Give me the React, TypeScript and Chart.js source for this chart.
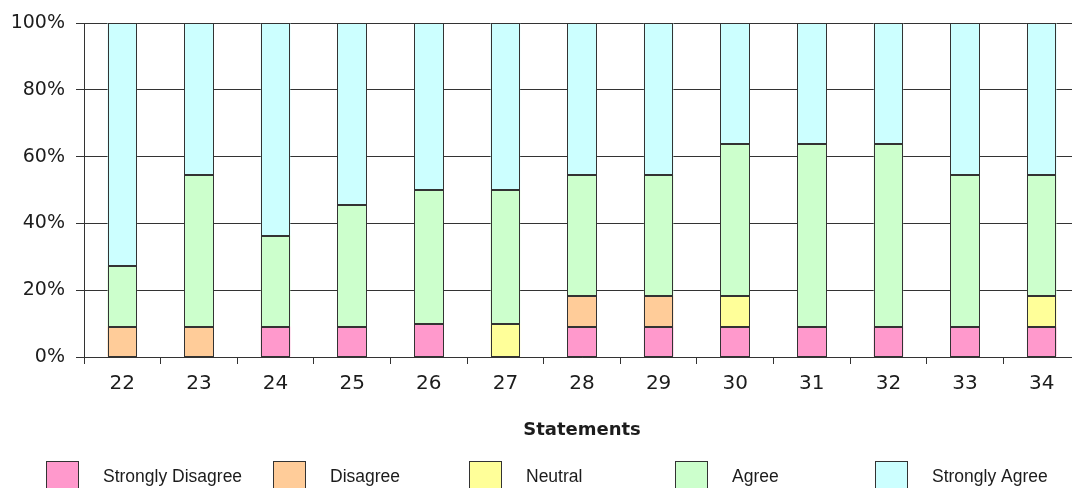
import React, { useEffect, useRef } from "react";
import { Chart, registerables } from "chart.js";

Chart.register(...registerables);

const categories = ["22", "23", "24", "25", "26", "27", "28", "29", "30", "31", "32", "33", "34"];
const seriesNames = ["Strongly Disagree", "Disagree", "Neutral", "Agree", "Strongly Agree"];
const stronglyDisagree = [null, null, 9.09, 9.09, 10, null, 9.09, 9.09, 9.09, 9.09, 9.09, 9.09, 9.09];
const disagree = [9.09, 9.09, null, null, null, null, 9.09, 9.09, null, null, null, null, null];
const neutral = [null, null, null, null, null, 10, null, null, 9.09, null, null, null, 9.09];
const agree = [18.18, 45.45, 27.27, 36.36, 40, 40, 36.36, 36.36, 45.45, 54.55, 54.55, 45.45, 36.36];
const stronglyAgree = [72.73, 45.45, 63.64, 54.55, 50, 50, 45.45, 45.45, 36.36, 36.36, 36.36, 45.45, 45.45];
const yTicks = [0, 20, 40, 60, 80, 100];

const colors = ["#FF99CC", "#FFCC99", "#FFFF99", "#CCFFCC", "#CCFFFF"];
const LINE = "#333333";
const TEXT = "#1c1c1c";

const outlinePlugin = {
  id: "barOutline",
  afterDatasetsDraw(chart: any) {
    const ctx = chart.ctx;
    ctx.save();
    ctx.strokeStyle = LINE;
    ctx.lineWidth = 1;
    chart.data.datasets.forEach((ds: any, i: number) => {
      const meta = chart.getDatasetMeta(i);
      meta.data.forEach((el: any, j: number) => {
        if (ds.data[j] == null) return;
        const { x, y, base, width } = el.getProps(["x", "y", "base", "width"], true);
        const l = Math.round(x - width / 2) + 0.5;
        const r = Math.round(x + width / 2) - 0.5;
        const t = Math.round(Math.min(y, base)) + 0.5;
        const b = Math.round(Math.max(y, base)) - 0.5;
        ctx.strokeRect(l, t, r - l, b - t);
      });
    });
    ctx.restore();
  },
};

const legendPlugin = {
  id: "customLegend",
  afterDraw(chart: any) {
    const ctx = chart.ctx;
    const xs = [46, 273, 469, 675, 875];
    const boxTop = 461;
    ctx.save();
    chart.data.datasets.forEach((ds: any, i: number) => {
      const x = xs[i];
      ctx.fillStyle = ds.backgroundColor;
      ctx.fillRect(x, boxTop, 33, 32);
      ctx.strokeStyle = LINE;
      ctx.lineWidth = 1;
      ctx.strokeRect(x + 0.5, boxTop + 0.5, 32, 31);
      ctx.fillStyle = TEXT;
      ctx.font = '17.5px "Liberation Sans", Arial, sans-serif';
      ctx.textBaseline = "middle";
      ctx.textAlign = "left";
      ctx.fillText(ds.label, x + 57, 477);
    });
    ctx.restore();
  },
};

export default function App() {
  const ref = useRef<HTMLCanvasElement>(null);
  useEffect(() => {
    if (!ref.current) return;
    const series = [stronglyDisagree, disagree, neutral, agree, stronglyAgree];
    const chart = new Chart(ref.current, {
      type: "bar",
      data: {
        labels: categories,
        datasets: series.map((d, i) => ({
          label: seriesNames[i],
          data: d,
          backgroundColor: colors[i],
          borderWidth: 0,
          categoryPercentage: 1,
          barPercentage: 0.385,
        })),
      },
      options: {
        animation: false,
        responsive: false,
        maintainAspectRatio: false,
        layout: { padding: { left: 0, right: 0, top: 23, bottom: 31 } },
        plugins: { legend: { display: false }, tooltip: { enabled: false } },
        scales: {
          x: {
            stacked: true,
            offset: true,
            grid: { drawOnChartArea: false, drawTicks: true, tickLength: 7, color: LINE, offset: true },
            border: { color: LINE, width: 1 },
            ticks: {
              color: TEXT,
              padding: 8,
              font: { family: '"DejaVu Sans", sans-serif', size: 20 },
              maxRotation: 0,
              autoSkip: false,
            },
            title: {
              display: true,
              text: "Statements",
              color: TEXT,
              font: { family: '"DejaVu Sans", sans-serif', size: 18, weight: "bold" },
              padding: { top: 0, bottom: 16 },
            },
            afterFit: (s: any) => {
              s.height = 100;
            },
          },
          y: {
            stacked: true,
            min: 0,
            max: 100,
            afterBuildTicks: (s: any) => {
              s.ticks = yTicks.map((v) => ({ value: v }));
            },
            grid: { color: LINE, tickLength: 8, drawTicks: true },
            border: { color: LINE, width: 1 },
            ticks: {
              color: TEXT,
              padding: 11,
              font: { family: '"DejaVu Sans", sans-serif', size: 19 },
              callback: (v: any) => v + "%",
            },
            afterFit: (s: any) => {
              s.width = 84;
            },
          },
        },
      },
      plugins: [outlinePlugin, legendPlugin],
    });
    return () => chart.destroy();
  }, []);
  return (
    <div style={{ position: "fixed", left: 0, top: 0, width: 1072, height: 488, overflow: "hidden", background: "#fff" }}>
      <canvas ref={ref} width={1080} height={488} style={{ width: 1080, height: 488, display: "block" }} />
    </div>
  );
}
